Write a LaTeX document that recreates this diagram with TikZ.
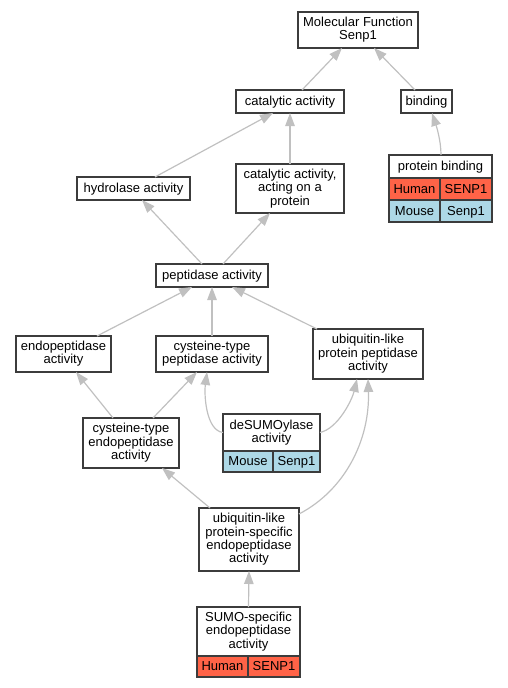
\documentclass[tikz,border=0pt]{standalone}
\usepackage{fontspec}
\setmainfont{Liberation Sans}
\usetikzlibrary{arrows.meta}
\definecolor{edgegray}{HTML}{C0C0C0}
\definecolor{bordergray}{HTML}{3C3C3C}
\definecolor{human}{HTML}{FF6347}
\definecolor{mouse}{HTML}{ADD8E6}
\begin{document}
\begin{tikzpicture}[x=1pt,y=-1pt,
 box/.style={draw=bordergray, line width=1.4pt, fill=white, inner sep=0pt, outer sep=0pt, align=center, anchor=north west, font=\fontsize{13}{13.3}\selectfont,
   execute at begin node={\rule{0pt}{11.5pt}}, execute at end node={\rule[-3pt]{0pt}{3pt}}},
 cell/.style={box, minimum height=21pt},
 edge/.style={draw=edgegray, line width=1.2pt, -{Triangle[length=13pt,width=9.5pt]}},
]
\useasboundingbox (0,0) rectangle (508,688);
\node[box, minimum width=120pt, minimum height=36pt] (mf) at (298,12) {Molecular Function\\Senp1};
\node[box, minimum width=108pt, minimum height=23pt] (cat) at (236,90) {catalytic activity};
\node[box, minimum width=51pt, minimum height=23pt] (bind) at (401,90) {binding};
\node[box, minimum width=103pt, minimum height=23pt] (pb) at (389,155) {protein binding};
\node[cell, fill=human, minimum width=51pt, minimum height=22pt] (pbh) at (pb.south west) {Human};
\node[cell, fill=human, minimum width=52pt, minimum height=22pt] (pbhg) at (pbh.north east) {SENP1};
\node[cell, fill=mouse, minimum width=51pt, minimum height=22pt] (pbm) at (pbh.south west) {Mouse};
\node[cell, fill=mouse, minimum width=52pt, minimum height=22pt] (pbmg) at (pbm.north east) {Senp1};
\node[box, minimum width=113pt, minimum height=23pt] (hyd) at (77,177) {hydrolase activity};
\node[box, minimum width=108pt, minimum height=49pt] (cap) at (236,164) {catalytic activity,\\acting on a\\protein};
\node[box, minimum width=112pt, minimum height=23pt] (pep) at (156,264) {peptidase activity};
\node[box, minimum width=95pt, minimum height=36pt] (endo) at (16,336) {endopeptidase\\activity};
\node[box, minimum width=112pt, minimum height=36pt] (ctp) at (156,336) {cysteine-type\\peptidase activity};
\node[box, minimum width=110pt, minimum height=50pt] (ulpp) at (313,329) {ubiquitin-like\\protein peptidase\\activity};
\node[box, minimum width=96pt, minimum height=50pt] (cte) at (83,418) {cysteine-type\\endopeptidase\\activity};
\node[box, minimum width=97pt, minimum height=37pt] (des) at (223,414) {deSUMOylase\\activity};
\node[cell, fill=mouse, minimum width=50pt] (desm) at (des.south west) {Mouse};
\node[cell, fill=mouse, minimum width=47pt] (desg) at (desm.north east) {Senp1};
\node[box, minimum width=100pt, minimum height=63pt] (ulpse) at (199,508) {ubiquitin-like\\protein-specific\\endopeptidase\\activity};
\node[box, minimum width=103pt, minimum height=49pt] (sumo) at (197,607) {SUMO-specific\\endopeptidase\\activity};
\node[cell, fill=human, minimum width=51pt] (sumoh) at (sumo.south west) {Human};
\node[cell, fill=human, minimum width=52pt] (sumog) at (sumoh.north east) {SENP1};

\draw[edge] ([xshift=12pt]cat.north) -- ([xshift=-16pt]mf.south);
\draw[edge] ([xshift=-11.5pt]bind.north) -- ([xshift=16pt]mf.south);
\draw[edge] ([xshift=0.5pt]pb.north) .. controls +(0,-15) and +(4,12) .. ([xshift=5.5pt]bind.south);
\draw[edge] ([xshift=21.5pt]hyd.north) -- ([xshift=-17pt]cat.south);
\draw[edge] (cap.north) -- (cat.south);
\draw[edge] ([xshift=-10pt]pep.north) -- ([xshift=8.5pt]hyd.south);
\draw[edge] ([xshift=11pt]pep.north) -- ([xshift=-20pt]cap.south);
\draw[edge] ([xshift=33.5pt]endo.north) -- ([xshift=-20pt]pep.south);
\draw[edge] (ctp.north) -- (pep.south);
\draw[edge] ([xshift=4pt]ulpp.north west) -- ([xshift=20pt]pep.south);
\draw[edge] ([xshift=-18pt]cte.north) -- ([xshift=12.5pt]endo.south);
\draw[edge] ([xshift=22pt]cte.north) -- ([xshift=-15pt]ctp.south);
\draw[edge] (des.west) .. controls +(-17,-2) and +(-3,23) .. ([xshift=-5pt]ctp.south);
\draw[edge] (des.east) .. controls +(18,-4) and +(-5,21) .. ([xshift=-11pt]ulpp.south);
\draw[edge] ([xshift=-39pt]ulpse.north) -- ([xshift=31pt]cte.south);
\draw[edge] ([yshift=-6pt]ulpse.north east) .. controls +(46,-24) and +(2,61) .. (ulpp.south);
\draw[edge] (sumo.north) -- (ulpse.south);
\end{tikzpicture}
\end{document}
